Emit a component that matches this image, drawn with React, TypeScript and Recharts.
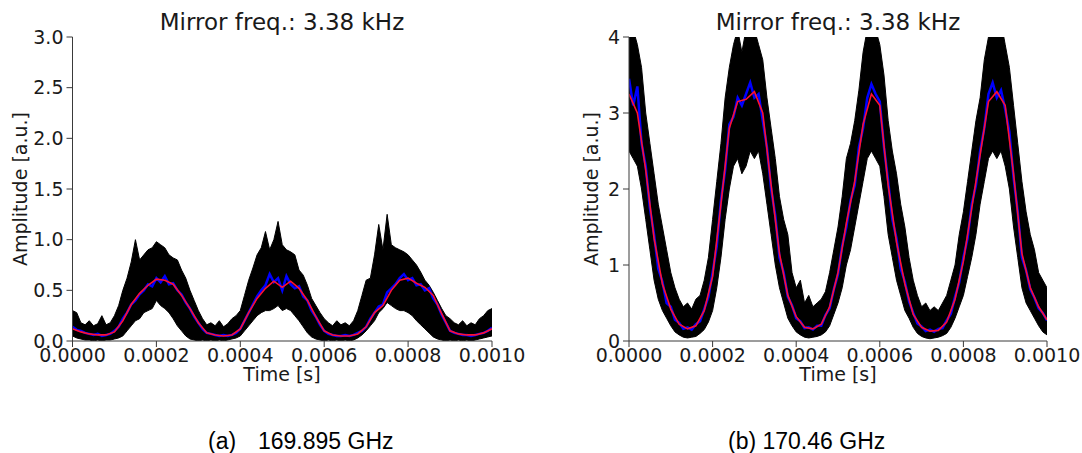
import React from 'react';
import { ComposedChart, Area, Line, XAxis, YAxis } from 'recharts';

// ---------- shared ----------
const STEP = 0.00001; // sample spacing of the envelope/blue arrays [s]
const TIME_TICKS = [0, 0.0002, 0.0004, 0.0006, 0.0008, 0.001];
const TITLE = 'Mirror freq.: 3.38 kHz';
const X_LABEL = 'Time [s]';
const Y_LABEL = 'Amplitude [a.u.]';

// ---------- (a) 169.895 GHz ----------
const A_Y_TICKS = [0, 0.5, 1.0, 1.5, 2.0, 2.5, 3.0];
const A_HI = [
  0.30, 0.28, 0.18, 0.16, 0.20, 0.15, 0.17, 0.25, 0.16, 0.18,
  0.25, 0.35, 0.50, 0.62, 0.78, 1.00, 0.80, 0.85, 0.90, 0.92,
  0.98, 0.95, 0.92, 0.85, 0.82, 0.80, 0.70, 0.62, 0.50, 0.40,
  0.30, 0.22, 0.16, 0.18, 0.15, 0.20, 0.14, 0.17, 0.22, 0.25,
  0.30, 0.45, 0.60, 0.72, 0.85, 0.92, 1.08, 0.90, 1.00, 1.18,
  0.95, 0.90, 0.88, 0.85, 0.70, 0.65, 0.55, 0.42, 0.35, 0.28,
  0.22, 0.18, 0.15, 0.20, 0.16, 0.18, 0.15, 0.20, 0.30, 0.45,
  0.60, 0.62, 0.85, 1.15, 0.90, 1.25, 0.95, 0.92, 0.90, 0.88,
  0.85, 0.80, 0.75, 0.68, 0.60, 0.55, 0.48, 0.40, 0.32, 0.25,
  0.22, 0.18, 0.16, 0.20, 0.15, 0.18, 0.16, 0.22, 0.25, 0.30, 0.32,
];
const A_LO = [
  0.05, 0.03, 0.02, 0.01, 0.01, 0.00, 0.01, 0.00, 0.01, 0.01,
  0.02, 0.03, 0.05, 0.10, 0.15, 0.20, 0.22, 0.28, 0.30, 0.32,
  0.40, 0.35, 0.32, 0.28, 0.22, 0.15, 0.10, 0.05, 0.02, 0.01,
  0.00, 0.01, 0.00, 0.01, 0.00, 0.01, 0.00, 0.01, 0.02, 0.03,
  0.05, 0.10, 0.15, 0.20, 0.25, 0.28, 0.30, 0.30, 0.32, 0.35,
  0.30, 0.32, 0.30, 0.25, 0.20, 0.14, 0.08, 0.04, 0.02, 0.01,
  0.00, 0.01, 0.00, 0.01, 0.00, 0.01, 0.00, 0.01, 0.03, 0.06,
  0.10, 0.15, 0.20, 0.28, 0.32, 0.38, 0.35, 0.32, 0.30, 0.30,
  0.28, 0.25, 0.20, 0.16, 0.12, 0.08, 0.04, 0.02, 0.01, 0.00,
  0.01, 0.00, 0.01, 0.00, 0.01, 0.00, 0.01, 0.02, 0.03, 0.04, 0.05,
];
const A_BLUE = [
  0.14, 0.11, 0.10, 0.08, 0.07, 0.06, 0.07, 0.05, 0.06, 0.07,
  0.10, 0.14, 0.22, 0.28, 0.36, 0.40, 0.46, 0.50, 0.56, 0.54,
  0.62, 0.58, 0.64, 0.56, 0.57, 0.50, 0.46, 0.38, 0.32, 0.24,
  0.18, 0.12, 0.08, 0.07, 0.06, 0.05, 0.06, 0.05, 0.06, 0.08,
  0.12, 0.20, 0.28, 0.36, 0.44, 0.50, 0.55, 0.66, 0.58, 0.62,
  0.50, 0.64, 0.56, 0.52, 0.54, 0.44, 0.40, 0.30, 0.24, 0.16,
  0.10, 0.07, 0.06, 0.05, 0.05, 0.06, 0.05, 0.06, 0.08, 0.10,
  0.14, 0.22, 0.28, 0.34, 0.36, 0.48, 0.52, 0.56, 0.62, 0.66,
  0.60, 0.62, 0.55, 0.56, 0.50, 0.52, 0.42, 0.36, 0.26, 0.18,
  0.10, 0.08, 0.07, 0.06, 0.06, 0.05, 0.06, 0.07, 0.08, 0.10, 0.13,
];
// red: every second sample (0, 2e-5, 4e-5, ...)
const A_RED = [
  0.12, 0.09, 0.07, 0.06, 0.06, 0.09, 0.20, 0.36, 0.47, 0.55,
  0.61, 0.60, 0.56, 0.45, 0.32, 0.18, 0.08, 0.06, 0.05, 0.06,
  0.12, 0.28, 0.42, 0.52, 0.59, 0.53, 0.59, 0.52, 0.40, 0.24,
  0.10, 0.06, 0.05, 0.05, 0.07, 0.14, 0.28, 0.35, 0.50, 0.60,
  0.62, 0.57, 0.53, 0.45, 0.27, 0.10, 0.07, 0.06, 0.06, 0.08, 0.12,
];

// ---------- (b) 170.46 GHz ----------
const B_Y_TICKS = [0, 1, 2, 3, 4];
const B_HI = [
  4.0, 4.1, 3.9, 3.6, 3.0, 2.6, 2.2, 1.8, 1.5, 1.2,
  0.9, 0.7, 0.55, 0.45, 0.5, 0.42, 0.55, 0.6, 0.8, 1.1,
  1.6, 2.1, 2.6, 3.2, 3.6, 3.9, 4.1, 3.8, 4.1, 4.2,
  4.1, 3.9, 3.7, 3.2, 2.8, 2.4, 1.9, 1.6, 1.4, 0.9,
  0.7, 0.8, 0.5, 0.6, 0.45, 0.5, 0.55, 0.65, 0.9, 1.2,
  1.5, 1.9, 2.4, 2.6, 2.9, 3.3, 3.8, 4.1, 4.2, 4.1,
  3.9, 3.5, 2.9, 2.5, 2.2, 1.8, 1.5, 1.1, 0.8, 0.6,
  0.45, 0.5, 0.4, 0.45, 0.4, 0.5, 0.6, 0.8, 1.0, 1.4,
  1.7, 2.1, 2.5, 2.9, 3.2, 3.7, 4.0, 4.2, 4.1, 4.2,
  3.9, 3.6, 3.1, 2.6, 2.1, 1.7, 1.4, 1.2, 0.9, 0.8, 0.7,
];
const B_LO = [
  2.5, 2.4, 2.3, 2.0, 1.6, 1.2, 0.8, 0.55, 0.4, 0.3,
  0.2, 0.12, 0.08, 0.05, 0.04, 0.05, 0.06, 0.1, 0.15, 0.25,
  0.4, 0.7, 1.1, 1.6, 2.0, 2.3, 2.4, 2.2, 2.3, 2.5,
  2.4, 2.5, 2.2, 1.8, 1.4, 1.0, 0.7, 0.5, 0.3, 0.2,
  0.12, 0.08, 0.05, 0.04, 0.05, 0.06, 0.08, 0.12, 0.2, 0.35,
  0.5, 0.7, 1.0, 1.2, 1.5, 1.8, 2.1, 2.4, 2.5, 2.4,
  2.3, 1.9, 1.4, 1.1, 0.8, 0.6, 0.4, 0.3, 0.18, 0.1,
  0.06, 0.04, 0.03, 0.04, 0.05, 0.07, 0.1, 0.18, 0.3, 0.45,
  0.6, 0.85, 1.1, 1.4, 1.8, 2.1, 2.4, 2.5, 2.4, 2.5,
  2.3, 2.0, 1.5, 1.1, 0.7, 0.5, 0.4, 0.3, 0.2, 0.12, 0.08,
];
const B_BLUE = [
  3.45, 3.1, 3.35, 2.6, 2.3, 1.75, 1.4, 0.95, 0.78, 0.5,
  0.45, 0.28, 0.24, 0.16, 0.18, 0.15, 0.22, 0.26, 0.42, 0.58,
  0.9, 1.25, 1.85, 2.25, 2.85, 2.95, 3.2, 3.1, 3.25, 3.4,
  3.2, 3.25, 2.9, 2.55, 2.0, 1.65, 1.1, 0.9, 0.58, 0.47,
  0.3, 0.26, 0.17, 0.18, 0.15, 0.2, 0.2, 0.34, 0.43, 0.68,
  0.88, 1.25, 1.5, 1.85, 2.05, 2.55, 2.8, 3.2, 3.38, 3.25,
  3.15, 2.55, 2.1, 1.6, 1.35, 0.95, 0.78, 0.52, 0.37, 0.23,
  0.19, 0.13, 0.15, 0.12, 0.16, 0.17, 0.27, 0.36, 0.58, 0.77,
  1.1, 1.35, 1.8, 2.05, 2.5, 2.8, 3.25, 3.4, 3.2, 3.3,
  3.05, 2.75, 2.15, 1.7, 1.1, 0.93, 0.68, 0.57, 0.43, 0.37, 0.27,
];
const B_RED = [
  3.25, 3.00, 2.25, 1.35, 0.75, 0.42, 0.22, 0.16, 0.20, 0.40,
  0.85, 1.80, 2.80, 3.15, 3.18, 3.28, 3.00, 2.05, 1.15, 0.60,
  0.32, 0.18, 0.16, 0.22, 0.45, 0.90, 1.55, 2.10, 2.85, 3.25,
  3.10, 2.05, 1.30, 0.75, 0.35, 0.18, 0.13, 0.14, 0.25, 0.55,
  1.05, 1.75, 2.45, 3.15, 3.28, 3.10, 2.20, 1.15, 0.70, 0.45, 0.28,
];

type Row = { t: number; band: [number, number]; blue: number; red: number | null };

function buildRows(hi: number[], lo: number[], blue: number[], red: number[]): Row[] {
  return hi.map((h, i) => ({
    t: i * STEP,
    band: [lo[i], h] as [number, number],
    blue: blue[i],
    red: i % 2 === 0 ? red[i / 2] : null,
  }));
}

const ROWS_A = buildRows(A_HI, A_LO, A_BLUE, A_RED);
const ROWS_B = buildRows(B_HI, B_LO, B_BLUE, B_RED);

const FONT = '"DejaVu Sans", sans-serif';
const AXIS_COLOR = '#3a3a3a';
const TICK_STYLE = { fontFamily: FONT, fontSize: 19, fill: '#1a1a1a' };

type PanelProps = {
  rows: Row[];
  yTicks: number[];
  yMax: number;
  yFmt: (v: number) => string;
  left: number;
  margin: { top: number; right: number; bottom: number; left: number };
};

function Panel({ rows, yTicks, yMax, yFmt, left, margin }: PanelProps) {
  return (
    <div style={{ position: 'absolute', left, top: 0 }}>
      <ComposedChart width={541} height={453} data={rows} margin={margin}>
        <XAxis
          dataKey="t"
          type="number"
          domain={[0, 0.001]}
          ticks={TIME_TICKS}
          allowDataOverflow
          tickFormatter={(v: number) => v.toFixed(4)}
          tick={TICK_STYLE}
          tickSize={6}
          tickMargin={2}
          height={30}
          stroke={AXIS_COLOR}
          interval={0}
        />
        <XAxis
          xAxisId="top"
          orientation="top"
          dataKey="t"
          type="number"
          domain={[0, 0.001]}
          tick={false}
          tickLine={false}
          height={0}
          stroke={AXIS_COLOR}
        />
        <YAxis
          type="number"
          domain={[0, yMax]}
          ticks={yTicks}
          allowDataOverflow
          tickFormatter={yFmt}
          tick={TICK_STYLE}
          tickSize={6}
          tickMargin={3}
          width={60}
          stroke={AXIS_COLOR}
          interval={0}
        />
        <YAxis
          yAxisId="right"
          orientation="right"
          domain={[0, yMax]}
          tick={false}
          tickLine={false}
          width={0}
          stroke={AXIS_COLOR}
        />
        <Area
          dataKey="band"
          type="linear"
          stroke="#000"
          strokeWidth={1}
          fill="#000"
          fillOpacity={1}
          isAnimationActive={false}
          dot={false}
          activeDot={false}
        />
        <Line
          dataKey="blue"
          type="linear"
          stroke="#0000ff"
          strokeWidth={2.5}
          dot={false}
          activeDot={false}
          isAnimationActive={false}
        />
        <Line
          dataKey="red"
          type="linear"
          stroke="#ff1030"
          strokeWidth={1.6}
          connectNulls
          dot={false}
          activeDot={false}
          isAnimationActive={false}
        />
      </ComposedChart>
    </div>
  );
}

export default function App() {
  return (
    <div style={{ position: 'absolute', left: 0, top: 0, width: 1082, height: 453, background: '#fff' }}>
      <Panel
        rows={ROWS_A}
        yTicks={A_Y_TICKS}
        yMax={3}
        yFmt={(v) => v.toFixed(1)}
        left={0}
        margin={{ top: 37, right: 49, bottom: 82, left: 12.5 }}
      />
      <Panel
        rows={ROWS_B}
        yTicks={B_Y_TICKS}
        yMax={4}
        yFmt={(v) => String(v)}
        left={541}
        margin={{ top: 37, right: 35, bottom: 82, left: 28 }}
      />
      <svg
        width={1082}
        height={453}
        style={{ position: 'absolute', left: 0, top: 0, pointerEvents: 'none' }}
      >
        <g fontFamily={FONT} fill="#1a1a1a">
          <text x={282} y={30} fontSize={23} textAnchor="middle">{TITLE}</text>
          <text x={838} y={30} fontSize={23} textAnchor="middle">{TITLE}</text>
          <text x={282} y={381} fontSize={19} textAnchor="middle">{X_LABEL}</text>
          <text x={838} y={381} fontSize={19} textAnchor="middle">{X_LABEL}</text>
          <text x={27} y={189} fontSize={19} textAnchor="middle" transform="rotate(-90 27 189)">{Y_LABEL}</text>
          <text x={598} y={189} fontSize={19} textAnchor="middle" transform="rotate(-90 598 189)">{Y_LABEL}</text>
        </g>
        <g fontFamily='"Liberation Sans", Arial, sans-serif' fontSize={23} fill="#000">
          <text x={208} y={449}>(a)</text>
          <text x={258} y={449}>169.895 GHz</text>
          <text x={728} y={449}>(b) 170.46 GHz</text>
        </g>
      </svg>
    </div>
  );
}
